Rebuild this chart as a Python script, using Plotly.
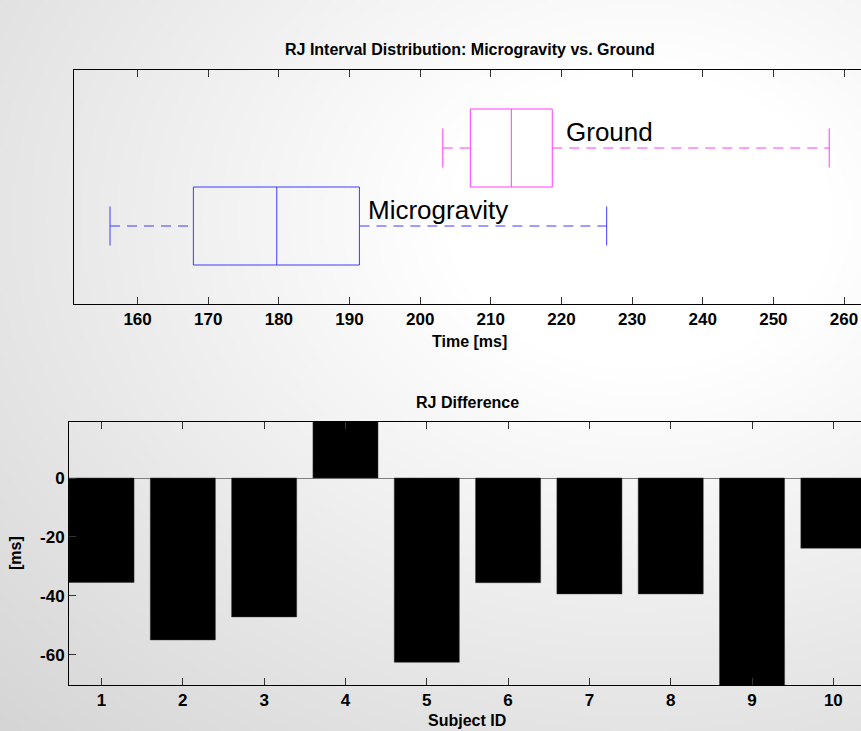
import base64, struct, zlib
import numpy as np
import plotly.graph_objects as go

# ---------------- data ----------------
groups = ["Microgravity", "Ground"]
group_pos = [1, 2]
whisker_lo = [156.1, 203.2]
q1 = [167.9, 207.1]
median = [179.7, 212.9]
q3 = [191.4, 218.7]
whisker_hi = [226.4, 257.9]
group_colors = ["#3c3cff", "#ff3cff"]
time_ticks = [160, 170, 180, 190, 200, 210, 220, 230, 240, 250, 260]

subjects = [1, 2, 3, 4, 5, 6, 7, 8, 9, 10]
rj_diff = [-35.4, -54.9, -47.1, 25.0, -62.5, -35.5, -39.3, -39.3, -78.0, -23.8]
diff_ticks = [-60, -40, -20, 0]

W, H = 861, 731
FONT = "Liberation Sans, Arial, Helvetica, sans-serif"


# ---------------- background gradient (style) ----------------
def make_png(arr):
    h, w, _ = arr.shape
    raw = b"".join(b"\x00" + arr[i].tobytes() for i in range(h))

    def chunk(tag, data):
        c = struct.pack(">I", len(data)) + tag + data
        return c + struct.pack(">I", zlib.crc32(tag + data) & 0xFFFFFFFF)

    return (b"\x89PNG\r\n\x1a\n"
            + chunk(b"IHDR", struct.pack(">IIBBBBB", w, h, 8, 2, 0, 0, 0))
            + chunk(b"IDAT", zlib.compress(raw, 9))
            + chunk(b"IEND", b""))


gw, gh = 287, 244
gx = (np.arange(gw) + 0.5) * W / gw
gy = (np.arange(gh) + 0.5) * H / gh
GX, GY = np.meshgrid(gx, gy)
dist = np.sqrt(((GX - 640) / 1.3) ** 2 + (GY - 220) ** 2)
dark = np.clip(0.075 * (dist - 150), 0, 50)
val = (255 - dark).astype(np.uint8)
img = np.stack([val, val, val], axis=-1)
bg_src = "data:image/png;base64," + base64.b64encode(make_png(img)).decode()

fig = go.Figure()

# ---------------- top: box plot ----------------
for g, pos, lo, a, m, b, hi, col in zip(groups, group_pos, whisker_lo, q1, median, q3,
                                         whisker_hi, group_colors):
    fig.add_trace(go.Scatter(
        x=[a, b, b, a, a, None, m, m],
        y=[pos - 0.5, pos - 0.5, pos + 0.5, pos + 0.5, pos - 0.5, None, pos - 0.5, pos + 0.5],
        mode="lines", line=dict(color=col, width=1), xaxis="x", yaxis="y",
        showlegend=False, hoverinfo="skip"))
    fig.add_trace(go.Scatter(
        x=[lo, lo, None, hi, hi],
        y=[pos - 0.25, pos + 0.25, None, pos - 0.25, pos + 0.25],
        mode="lines", line=dict(color=col, width=1), xaxis="x", yaxis="y",
        showlegend=False, hoverinfo="skip"))
    fig.add_trace(go.Scatter(
        x=[lo, a, None, b, hi],
        y=[pos, pos, None, pos, pos],
        mode="lines", line=dict(color=col, width=1, dash="10px,7px"), xaxis="x", yaxis="y",
        showlegend=False, hoverinfo="skip"))

label_x = [192.4, 220.4]
annotations = []
for g, pos, lx in zip(groups, group_pos, label_x):
    annotations.append(dict(x=lx, y=pos + 0.2, xref="x", yref="y", text=g, showarrow=False,
                            xanchor="left", yanchor="middle",
                            font=dict(family=FONT, size=26, color="black")))

# ---------------- bottom: bar plot ----------------
fig.add_trace(go.Bar(
    x=subjects, y=rj_diff, width=0.8, xaxis="x2", yaxis="y2",
    marker=dict(color="black", line=dict(color="#333333", width=0.5)),
    showlegend=False, hoverinfo="skip"))


def lab(text, x, y, size=17, angle=0):
    return dict(x=x / W, y=1 - y / H, xref="paper", yref="paper", text=text, showarrow=False,
                xanchor="center", yanchor="middle", textangle=angle,
                font=dict(family=FONT, size=size, color="black", weight="bold"))


annotations += [
    lab("RJ Interval Distribution: Microgravity vs. Ground", 470, 49, 16),
    lab("Time [ms]", 470, 341, 16),
    lab("RJ Difference", 467, 402, 16),
    lab("Subject ID", 467, 720, 16),
    lab("[ms]", 15, 553, 16, -90),
]

tickfont = dict(family=FONT, size=17, color="black", weight="bold")
axis_common = dict(showline=True, linecolor="black", linewidth=1, showgrid=False,
                   ticks="inside", ticklen=7, tickcolor="#333333", tickfont=tickfont)

fig.update_layout(
    width=W, height=H,
    margin=dict(l=0, r=0, t=0, b=0),
    paper_bgcolor="white", plot_bgcolor="rgba(0,0,0,0)",
    images=[dict(source=bg_src, xref="paper", yref="paper", x=0, y=1, sizex=1, sizey=1,
                 xanchor="left", yanchor="top", sizing="stretch", layer="below")],
    xaxis=dict(domain=[74 / W, 1], range=[151.0, 262.4], tickvals=time_ticks,
               ticktext=[str(t) for t in time_ticks], zeroline=False,
               mirror="ticks", anchor="y", **axis_common),
    yaxis=dict(domain=[1 - 304 / H, 1 - 70 / H], range=[0, 3], showline=True,
               linecolor="black", linewidth=1, showgrid=False, zeroline=False,
               showticklabels=False, ticks="", anchor="x"),
    xaxis2=dict(domain=[69 / W, 1], range=[0.6, 10.34], tickvals=subjects,
                ticktext=[str(s) for s in subjects], zeroline=False,
                mirror="ticks", anchor="y2", **axis_common),
    yaxis2=dict(domain=[1 - 685 / H, 1 - 422 / H], range=[-70.2, 19.0],
                tickvals=diff_ticks, ticktext=[str(t) for t in diff_ticks],
                zeroline=True, zerolinecolor="#808080", zerolinewidth=1,
                anchor="x2", **axis_common),
    annotations=annotations,
    bargap=0.2,
)

fig.write_html("out.html")
